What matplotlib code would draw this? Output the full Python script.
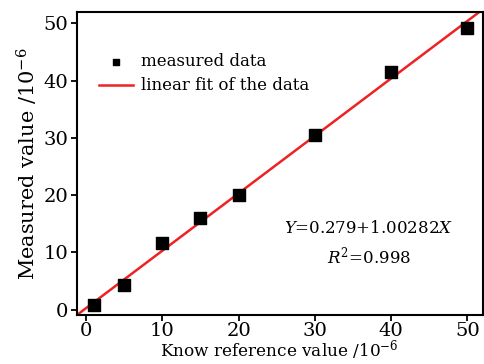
import matplotlib
matplotlib.use("Agg")
import matplotlib.pyplot as plt
import numpy as np

# data
ref_vals = [1, 5, 10, 15, 20, 30, 40, 50]
measured_vals = [0.8, 4.3, 11.6, 16.1, 20.0, 30.6, 41.5, 49.2]
fit_intercept = 0.279
fit_slope = 1.00282
xticks = [0, 10, 20, 30, 40, 50]
yticks = [0, 10, 20, 30, 40, 50]

plt.rcParams['font.family'] = ['DejaVu Serif']
plt.rcParams['mathtext.fontset'] = 'dejavuserif'

fig = plt.figure(figsize=(4.84, 3.64), dpi=100)
ax = fig.add_axes([0.159, 0.135, 0.838, 0.832])

xlim = (-1.2, 52)
xs = np.array(xlim)
ax.plot(xs, fit_intercept + fit_slope * xs, color='#ee2222', lw=1.8,
        label='linear fit of the data', zorder=2)
ax.scatter(ref_vals, measured_vals, marker='s', s=75, color='black',
           label='measured data', zorder=3)

ax.set_xlim(*xlim)
ax.set_ylim(-0.9, 52)
ax.set_xticks(xticks)
ax.set_yticks(yticks)
ax.tick_params(direction='out', length=4, width=1.3, labelsize=14, pad=2)
ax.tick_params(axis='x', pad=1)
for s in ax.spines.values():
    s.set_linewidth(1.5)

ax.set_xlabel('Know reference value /$10^{-6}$', fontsize=12.2, va='baseline')
ax.xaxis.set_label_coords(0.5, -0.137)
ax.set_ylabel('Measured value /$10^{-6}$', fontsize=15, labelpad=3)

handles, labels = ax.get_legend_handles_labels()
ax.legend(handles[::-1], labels[::-1], loc='upper left', frameon=False,
          fontsize=12, bbox_to_anchor=(0.055, 0.865), markerscale=0.55,
          handlelength=2.0, handletextpad=0.5, borderpad=0, borderaxespad=0,
          labelspacing=0.45)

ax.text(0.72, 0.235, '$Y$=0.279+1.00282$X$\n$R^2$=0.998', transform=ax.transAxes,
        ha='center', va='center', fontsize=12, linespacing=1.45)

fig.savefig('out.png', dpi=100)
